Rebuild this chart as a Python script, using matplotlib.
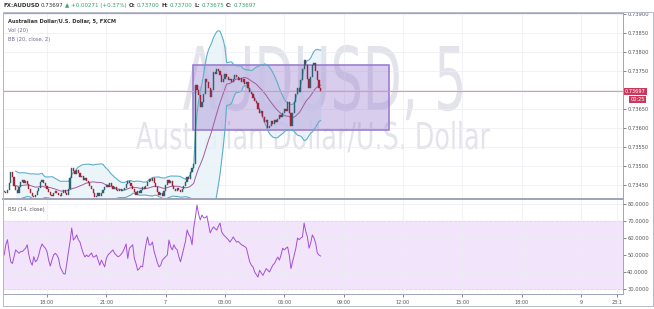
import numpy as np
import pandas as pd
import matplotlib
matplotlib.use('Agg')
import matplotlib.pyplot as plt
import matplotlib.transforms as mtransforms
from matplotlib.textpath import TextPath
from matplotlib.patches import PathPatch, Rectangle
from matplotlib.font_manager import FontProperties

# 5 minute bars, index 0 = 18:00 of day 6
first_bar = -26
closes = [
    0.73432, 0.73428, 0.73437, 0.73455, 0.73485, 0.73470, 0.73448, 0.73438, 0.73430, 0.73445, 0.73458, 0.73462, 0.73455,
    0.73460, 0.73452, 0.73440, 0.73430, 0.73422, 0.73418, 0.73425, 0.73435, 0.73442, 0.73458, 0.73463, 0.73455, 0.73448,
    0.73440, 0.73432, 0.73425, 0.73420, 0.73428, 0.73435, 0.73430, 0.73424, 0.73420, 0.73428, 0.73436, 0.73430,
    0.73425, 0.73440, 0.73468, 0.73495, 0.73488, 0.73478, 0.73490, 0.73482, 0.73470, 0.73475, 0.73462, 0.73468,
    0.73460, 0.73455, 0.73448, 0.73440, 0.73428, 0.73418, 0.73422, 0.73430, 0.73420, 0.73428, 0.73438, 0.73445,
    0.73450, 0.73445, 0.73455, 0.73448, 0.73440, 0.73445, 0.73438, 0.73435, 0.73440, 0.73433, 0.73437, 0.73442,
    0.73452, 0.73460, 0.73455, 0.73448, 0.73440, 0.73432, 0.73425, 0.73435, 0.73428, 0.73438, 0.73445, 0.73440,
    0.73448, 0.73458, 0.73465, 0.73460, 0.73468, 0.73455, 0.73445, 0.73432, 0.73425, 0.73430, 0.73422, 0.73435,
    0.73450, 0.73462, 0.73455, 0.73460, 0.73448, 0.73440, 0.73435, 0.73442, 0.73438, 0.73432, 0.73440, 0.73448,
    0.73458, 0.73470, 0.73465, 0.73485, 0.73495, 0.73505,
    0.73713, 0.73700, 0.73687, 0.73655, 0.73668, 0.73690, 0.73730, 0.73722, 0.73705, 0.73682, 0.73700, 0.73748,
    0.73742, 0.73755, 0.73750, 0.73740, 0.73720, 0.73730, 0.73742, 0.73735, 0.73725, 0.73730, 0.73720, 0.73728,
    0.73740, 0.73735, 0.73725, 0.73732, 0.73722, 0.73728, 0.73715, 0.73720, 0.73705, 0.73695, 0.73690, 0.73680,
    0.73672, 0.73665, 0.73650, 0.73640, 0.73645, 0.73628, 0.73615, 0.73620, 0.73600, 0.73605, 0.73618, 0.73610,
    0.73622, 0.73615, 0.73625, 0.73635, 0.73628, 0.73640, 0.73650, 0.73645, 0.73668, 0.73640, 0.73605, 0.73640,
    0.73668, 0.73690, 0.73705, 0.73695, 0.73725, 0.73755, 0.73779, 0.73765, 0.73730, 0.73705, 0.73735, 0.73765,
    0.73770, 0.73750, 0.73725, 0.73705, 0.73697,
]
rsi = [
    50, 56, 59, 52, 46, 45, 49, 53, 52, 51, 52, 52,
    53, 54, 56, 50, 46, 44, 49, 46, 47, 50, 54, 56.5,
    55, 54, 52, 47, 43.5, 47, 50, 51, 50, 48, 43, 41,
    39, 38.8, 45, 51.8, 58, 65.9, 58.8, 60, 61.8, 59, 57.6, 54,
    51, 48.8, 50, 49, 50, 51.2, 48.8, 49, 50, 47, 44, 47,
    45, 43, 48, 50, 51, 52, 53, 51, 50, 49, 49.4, 50.5,
    51.8, 54, 56.5, 48, 54, 55, 56, 48, 45, 41, 42, 43.5,
    43, 50, 56, 60.6, 55.9, 56, 57.6, 52, 48.8, 45.3, 43, 44,
    47, 48, 49, 50, 58.8, 55, 53, 56, 54, 53, 49, 46,
    50, 54, 58, 64.7, 62, 60.6, 56, 65.9, 72, 79.4, 74, 70.6,
    73.5, 72, 71.8, 73, 68, 63, 65, 66.5, 65.5, 64.7, 67, 68.8,
    63.5, 62, 61, 60, 59, 57.6, 59, 60.6, 59, 57.6, 58, 57,
    56, 55.5, 55, 54, 50, 46, 44, 43, 40, 38.5, 37, 41,
    39.5, 38, 40, 42, 41, 40, 42, 44, 45, 47, 48.8, 47,
    50, 54, 53, 54, 54.7, 50, 42, 46, 50, 54, 60, 59,
    60, 60.6, 68.8, 64, 60.6, 54, 57, 61.8, 60, 57, 51.2, 50,
    49.4,
]
last_price = 0.73697
countdown = '00:25'
time_ticks = [0, 36, 72, 108, 144, 180, 216, 252, 288, 324, 346]
time_labels = ['18:00', '21:00', '7', '03:00', '06:00', '09:00', '12:00', '15:00', '18:00', '9', '23:1']
price_ticks = [0.7345, 0.7350, 0.7355, 0.7360, 0.7365, 0.7370, 0.7375, 0.7380, 0.7385, 0.7390]
rsi_ticks = [30, 40, 50, 60, 70, 80]
box_bars = (88.6, 207.5)
box_prices = (0.73595, 0.73766)

header = [
    ('FX:AUDUSD', '#333333', 'bold'), ('0.73697', '#333333', 'normal'),
    ('\u25b2', '#30a46c', 'normal'), ('+0.00271 (+0.37%)', '#30a46c', 'normal'),
    ('O:', '#333333', 'bold'), ('0.73700', '#30a46c', 'normal'),
    ('H:', '#333333', 'bold'), ('0.73700', '#30a46c', 'normal'),
    ('L:', '#333333', 'bold'), ('0.73675', '#30a46c', 'normal'),
    ('C:', '#333333', 'bold'), ('0.73697', '#30a46c', 'normal'),
]

W, H = 654, 309
fig = plt.figure(figsize=(W / 100, H / 100), dpi=100)
fig.patch.set_facecolor('white')


def px_axes(x0, y0, x1, y1):
    return fig.add_axes([x0 / W, 1 - y1 / H, (x1 - x0) / W, (y1 - y0) / H])


ax = px_axes(3, 13, 623, 199)
ax2 = px_axes(3, 200, 623, 294)
xlim = (-26.7, 349.5)
border = '#9ea3bb'
grid = '#ededf3'

idx = np.arange(first_bar, first_bar + len(closes))
c = pd.Series(closes, index=idx)
o = c.shift(1).fillna(c.iloc[0])

# Bollinger bands (20, close, 2)
basis = c.rolling(20, min_periods=8).mean()
dev = c.rolling(20, min_periods=8).std(ddof=0)
upper = basis + 2 * dev
lower = basis - 2 * dev


def watermark(s, x0, x1, base, cap):
    fp = FontProperties(family='DejaVu Sans')
    tp = TextPath((0, 0), s, size=1, prop=fp)
    ext = tp.get_extents()
    ref = TextPath((0, 0), 'A', size=1, prop=fp).get_extents()
    tr = mtransforms.Affine2D().translate(-ext.x0, 0).scale((x1 - x0) / ext.width, cap / ref.y1).translate(x0, H - base)
    ax.add_patch(PathPatch(tp, transform=tr, facecolor='#e3e3eb', edgecolor='none', zorder=0.5))


watermark('AUDUSD, 5', 183, 462, 110, 64)
watermark('Australian Dollar/U.S. Dollar', 136, 490, 149, 27)

ax.fill_between(idx, lower, upper, color='#e6f3f8', alpha=0.8, lw=0, zorder=1)
ax.plot(idx, upper, color='#5eaec8', lw=0.8, zorder=2)
ax.plot(idx, lower, color='#5eaec8', lw=0.8, zorder=2)
ax.plot(idx, basis, color='#a65a9e', lw=0.7, zorder=2)

ax.add_patch(Rectangle((box_bars[0], box_prices[0]), box_bars[1] - box_bars[0], box_prices[1] - box_prices[0],
                       facecolor='#9575cd', alpha=0.36, edgecolor='none', zorder=1.5))
ax.add_patch(Rectangle((box_bars[0], box_prices[0]), box_bars[1] - box_bars[0], box_prices[1] - box_prices[0],
                       facecolor='none', edgecolor='#9c7fd2', lw=1.2, zorder=1.6))

up = c >= o
cols = np.where(up, '#2b6470', '#a3223a')
body = (c - o).where((c - o).abs() > 0.00001, 0.00001)
ax.bar(idx, body, bottom=o, width=0.72, color=cols, edgecolor=cols, lw=0.3, zorder=3)

ax.axhline(last_price, color='#f28cb0', lw=0.8, zorder=2.5)

ax.set_xlim(xlim)
ax.set_ylim(0.734132, 0.739026)
ax.set_xticks(time_ticks)
ax.yaxis.tick_right()
ax.set_yticks(price_ticks)
# the 0.73700 label sits under the last-price box, as in the original
ax.set_yticklabels(['' if abs(p - last_price) < 0.0002 else '%.5f' % p for p in price_ticks])
ax.tick_params(axis='x', length=0, labelbottom=False)
ax.tick_params(axis='y', labelsize=3.7, colors='#555555', length=2, width=0.5, pad=1)
ax.grid(True, color=grid, lw=0.5, zorder=0)
ax.set_axisbelow(True)

lbl = dict(transform=ax.get_yaxis_transform(), ha='left', va='center', fontsize=3.6, color='white', zorder=10,
           clip_on=False)
ax.text(1.003, last_price, '%.5f' % last_price, bbox=dict(boxstyle='square,pad=0.2', fc='#c8395d', ec='none'), **lbl)
ax.text(1.012, last_price - 0.00023, countdown, bbox=dict(boxstyle='square,pad=0.2', fc='#c8395d', ec='none'), **lbl)

# RSI pane
ax2.axhspan(30, 70, color='#f2e5fb', zorder=0)
ax2.axhline(70, color='#c8a8e0', lw=0.6, ls='--', zorder=1)
ax2.axhline(30, color='#c8a8e0', lw=0.6, ls='--', zorder=1)
ax2.plot(idx, rsi, color='#a24fd6', lw=0.7, zorder=3)
ax2.set_xlim(xlim)
ax2.set_ylim(27.06, 82.35)
ax2.yaxis.tick_right()
ax2.set_yticks(rsi_ticks)
ax2.set_yticklabels(['%.4f' % v for v in rsi_ticks])
ax2.set_xticks(time_ticks)
ax2.set_xticklabels(time_labels)
ax2.tick_params(axis='y', labelsize=3.7, colors='#555555', length=2, width=0.5, pad=1)
ax2.tick_params(axis='x', labelsize=3.5, colors='#555555', length=2, width=0.5, pad=2)
ax2.grid(True, color=grid, lw=0.5, zorder=0.5)

for a in (ax, ax2):
    for s in a.spines.values():
        s.set_color(border)
        s.set_linewidth(0.7)
ax.spines['bottom'].set_linewidth(1.4)
ax2.spines['top'].set_visible(False)

fig.add_artist(Rectangle((3 / W, 1 - 306 / H), 650 / W, 294 / H, transform=fig.transFigure,
                         fill=False, edgecolor='#b4b9cc', lw=0.7))

# legend texts
fig.text(8 / W, 1 - 21.7 / H, 'Australian Dollar/U.S. Dollar, 5, FXCM', fontsize=3.7, color='#333333',
         va='center', fontweight='bold')
fig.text(8 / W, 1 - 30.7 / H, 'Vol (20)', fontsize=3.7, color='#6f6a94', va='center')
fig.text(8 / W, 1 - 39.5 / H, 'BB (20, close, 2)', fontsize=3.7, color='#6f6a94', va='center')
fig.text(8 / W, 1 - 209 / H, 'RSI (14, close)', fontsize=3.7, color='#555555', va='center')

renderer = fig.canvas.get_renderer()
x = 3
for s, col, w in header:
    t = fig.text(x / W, 1 - 5.5 / H, s, color=col, fontsize=4.0, fontweight=w, va='center', ha='left')
    x = t.get_window_extent(renderer).x1 + 1.6

fig.savefig('out.png', dpi=100)
